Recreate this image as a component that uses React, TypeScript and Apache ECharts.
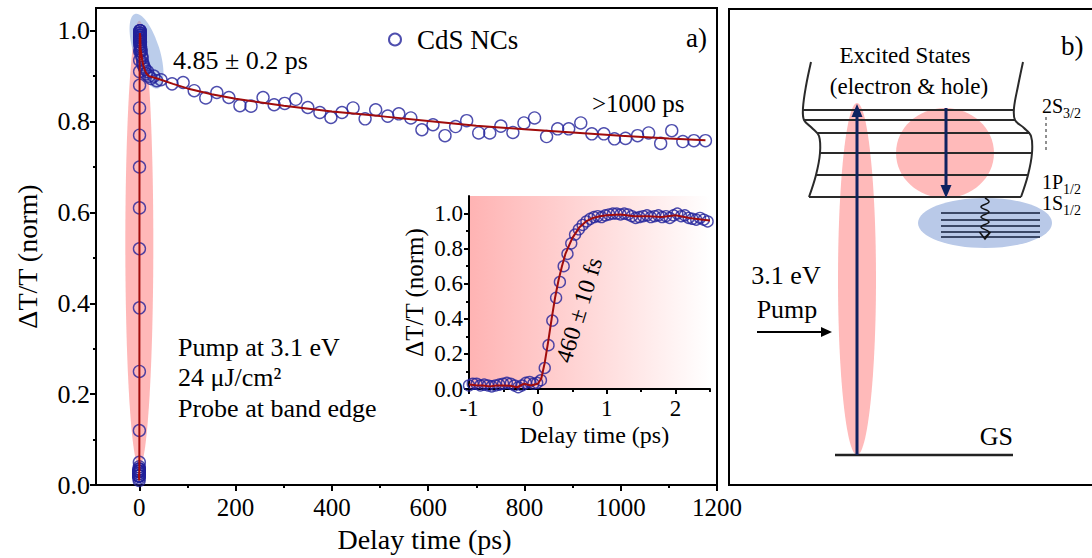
import React, { useEffect, useRef } from 'react';
import * as echarts from 'echarts';

const SERIF = '"Liberation Serif", "Times New Roman", serif';
const NAVY_MARK = '#22229a';
const FIT_RED = '#a00c0c';
const ARROW_NAVY = '#0e2260';

// Sub-picosecond scan around time zero (ps, normalised dT/T)
const riseTime = [
  -1.0, -0.945, -0.89, -0.835, -0.78, -0.725, -0.67, -0.615, -0.56, -0.505,
  -0.45, -0.395, -0.34, -0.285, -0.23, -0.175, -0.12, -0.065, -0.01, 0.045,
  0.1, 0.155, 0.21, 0.265, 0.32, 0.375, 0.43, 0.485, 0.54, 0.595,
  0.65, 0.705, 0.76, 0.815, 0.87, 0.925, 0.98, 1.035, 1.09, 1.145,
  1.2, 1.255, 1.31, 1.365, 1.42, 1.475, 1.53, 1.585, 1.64, 1.695,
  1.75, 1.805, 1.86, 1.915, 1.97, 2.025, 2.08, 2.135, 2.19, 2.245,
  2.3, 2.355, 2.41, 2.465,
];
const riseSignal = [
  0.02, 0.03, 0.03, 0.02, 0.025, 0.02, 0.015, 0.02, 0.025, 0.03,
  0.035, 0.03, 0.02, 0.01, 0.02, 0.035, 0.04, 0.03, 0.035, 0.05,
  0.12, 0.25, 0.39, 0.52, 0.61, 0.7, 0.77, 0.83, 0.88, 0.91,
  0.935, 0.955, 0.97, 0.98, 0.985, 0.98, 0.99, 0.995, 1.0, 1.0,
  0.995, 1.0, 0.995, 0.985, 0.975, 0.98, 0.985, 0.99, 0.98, 0.985,
  0.99, 0.98, 0.985, 0.975, 0.99, 1.0, 0.985, 0.99, 0.975, 0.97,
  0.965, 0.975, 0.965, 0.955,
];

// Long-delay scan (ps, normalised dT/T)
const decayTime = [
  3, 4, 5, 6, 7, 8, 10, 12, 14, 17, 20, 24, 30, 36,
  45, 68, 91, 114, 138, 161, 186, 209, 232, 257, 280, 302, 325, 350, 375, 398,
  421, 444, 469, 491, 516, 539, 564, 587, 610, 635, 657, 680, 705, 728, 751,
  776, 799, 821, 846, 869, 892, 917, 940, 965, 987, 1010, 1035, 1058, 1083,
  1106, 1129, 1152, 1176,
];
const decaySignal = [
  0.96, 0.955, 0.945, 0.94, 0.93, 0.925, 0.92, 0.915, 0.905, 0.91, 0.9, 0.895, 0.9, 0.89,
  0.892, 0.883, 0.886, 0.868, 0.852, 0.864, 0.853, 0.835, 0.834, 0.853, 0.837, 0.84, 0.849, 0.831, 0.82, 0.809,
  0.82, 0.83, 0.806, 0.826, 0.812, 0.817, 0.808, 0.782, 0.793, 0.769, 0.789, 0.802, 0.775, 0.775, 0.79,
  0.776, 0.797, 0.808, 0.767, 0.784, 0.784, 0.797, 0.773, 0.773, 0.762, 0.763, 0.769, 0.775, 0.752,
  0.78, 0.756, 0.758, 0.758,
];

// Fitted curves
const riseFitTime = [
  -1.0, -0.9, -0.8, -0.7, -0.6, -0.5, -0.4, -0.3, -0.2, -0.1, 0.0, 0.05, 0.1, 0.15,
  0.2, 0.25, 0.3, 0.35, 0.4, 0.5, 0.6, 0.7, 0.8, 0.9, 1.0, 1.2, 1.4, 1.6, 1.8, 2.0,
  2.2, 2.4, 2.5,
];
const riseFitValue = [
  0.025, 0.022, 0.02, 0.015, 0.02, 0.02, 0.018, 0.01, 0.03, 0.02, 0.03, 0.06, 0.15, 0.27,
  0.4, 0.52, 0.62, 0.7, 0.77, 0.86, 0.92, 0.955, 0.975, 0.985, 0.99, 0.995, 0.985, 0.985, 0.98, 0.99,
  0.975, 0.965, 0.96,
];
const decayFitTime = [
  4, 6, 8, 10, 14, 20, 30, 45, 70, 100, 150, 200, 300, 400, 500, 600, 700, 800,
  900, 1000, 1100, 1176,
];
const decayFitValue = [
  0.95, 0.935, 0.925, 0.917, 0.907, 0.9, 0.897, 0.892, 0.883, 0.873, 0.86, 0.85, 0.835,
  0.822, 0.812, 0.801, 0.791, 0.783, 0.776, 0.769, 0.763, 0.759,
];

// Axis ticks
const mainXTicks = [0, 200, 400, 600, 800, 1000, 1200];
const mainXMinor = [100, 300, 500, 700, 900, 1100];
const mainYTicks = [0, 0.2, 0.4, 0.6, 0.8, 1.0];
const mainYMinor = [0.1, 0.3, 0.5, 0.7, 0.9];
const insetXTicks = [-1, 0, 1, 2];
const insetXMinor = [-0.5, 0.5, 1.5, 2.5];
const insetYTicks = [0, 0.2, 0.4, 0.6, 0.8, 1.0];
const insetYMinor = [0.1, 0.3, 0.5, 0.7, 0.9];

// Highlighted regions in data coordinates: [time, lower, upper] and two ends
const pumpWindow = [0, 0.04, 1.022];
const fastDecayWindow = [[-9, 1.037], [39, 0.873]];

const zip = (a: number[], b: number[]) => a.map((v, i) => [v, b[i]]);

function majorAxis(extra: any) {
  return {
    type: 'value',
    axisLine: { show: true, onZero: false, lineStyle: { color: '#000', width: 2 } },
    splitLine: { show: false },
    ...extra,
  };
}

function minorAxis(gridIndex: number, min: number, max: number, ticks: number[], position: string) {
  return {
    type: 'value',
    gridIndex,
    min,
    max,
    position,
    axisLine: { show: false, onZero: false },
    axisTick: { show: true, customValues: ticks, length: 3, lineStyle: { color: '#000', width: 2 } },
    axisLabel: { show: false },
    splitLine: { show: false },
  };
}

function txt(text: string, x: number, y: number, fontSize: number, extra: any = {}) {
  return {
    type: 'text',
    x,
    y,
    z: 20,
    ...extra,
    style: {
      text,
      fontSize,
      fontFamily: SERIF,
      fill: '#000',
      align: 'left',
      verticalAlign: 'middle',
      ...(extra.style || {}),
    },
  };
}

function seg(x1: number, y1: number, x2: number, y2: number, stroke: string, lineWidth: number, z = 6, extra: any = {}) {
  return { type: 'line', z, shape: { x1, y1, x2, y2 }, style: { stroke, lineWidth, ...extra } };
}

function buildOption() {
  const mainPoints = zip(riseTime, riseSignal).concat(zip(decayTime, decaySignal));
  const mainFit = zip(riseFitTime, riseFitValue).concat(zip(decayFitTime, decayFitValue));
  const insetGradient = new echarts.graphic.LinearGradient(0, 0, 1, 0, [
    { offset: 0, color: '#ffb3b3' },
    { offset: 0.5, color: '#ffd8d8' },
    { offset: 1, color: '#ffffff' },
  ]);
  return {
    animation: false,
    backgroundColor: '#fff',
    textStyle: { fontFamily: SERIF },
    legend: {
      show: true,
      data: [{ name: 'CdS NCs', icon: 'circle' }],
      left: 383,
      top: 21,
      itemWidth: 12,
      itemHeight: 12,
      textStyle: { fontSize: 27, fontFamily: SERIF, color: '#000', padding: [0, 0, 0, 11] },
    },
    grid: [
      { left: 96, top: 8, width: 621, height: 477, show: true, borderColor: '#000', borderWidth: 2, backgroundColor: 'transparent' },
      { left: 469, top: 196, width: 241, height: 193, show: true, borderWidth: 0, backgroundColor: insetGradient },
    ],
    xAxis: [
      majorAxis({
        gridIndex: 0,
        min: -90,
        max: 1200,
        position: 'bottom',
        axisTick: { show: true, customValues: mainXTicks, length: 6, lineStyle: { color: '#000', width: 2 } },
        axisLabel: {
          show: true, customValues: mainXTicks, margin: 10, fontSize: 25, fontFamily: SERIF, color: '#000',
          formatter: (v: number) => String(v),
        },
        name: 'Delay time (ps)',
        nameLocation: 'middle',
        nameGap: 40,
        nameTextStyle: { fontSize: 28, fontFamily: SERIF, color: '#000', padding: [0, 0, 0, 36] },
      }),
      minorAxis(0, -90, 1200, mainXMinor, 'bottom'),
      majorAxis({
        gridIndex: 1,
        min: -1,
        max: 2.5,
        position: 'bottom',
        axisTick: { show: true, customValues: insetXTicks, length: 5, lineStyle: { color: '#000', width: 2 } },
        axisLabel: {
          show: true, customValues: insetXTicks, margin: 8, fontSize: 23, fontFamily: SERIF, color: '#000',
          formatter: (v: number) => String(v),
        },
        name: 'Delay time (ps)',
        nameLocation: 'middle',
        nameGap: 34,
        nameTextStyle: { fontSize: 24, fontFamily: SERIF, color: '#000', padding: [0, 0, 0, 10] },
      }),
      minorAxis(1, -1, 2.5, insetXMinor, 'bottom'),
    ],
    yAxis: [
      majorAxis({
        gridIndex: 0,
        min: 0,
        max: 1.05,
        position: 'left',
        axisTick: { show: true, customValues: mainYTicks, length: 6, lineStyle: { color: '#000', width: 2 } },
        axisLabel: {
          show: true, customValues: mainYTicks, margin: 6, fontSize: 26, fontFamily: SERIF, color: '#000',
          formatter: (v: number) => v.toFixed(1),
        },
        name: 'ΔT/T (norm)',
        nameLocation: 'middle',
        nameGap: 55,
        nameTextStyle: { fontSize: 28, fontFamily: SERIF, color: '#000', padding: [0, 20, 0, 0] },
      }),
      minorAxis(0, 0, 1.05, mainYMinor, 'left'),
      majorAxis({
        gridIndex: 1,
        min: 0,
        max: 1.1,
        position: 'left',
        axisTick: { show: true, customValues: insetYTicks, length: 5, lineStyle: { color: '#000', width: 2 } },
        axisLabel: {
          show: true, customValues: insetYTicks, margin: 6, fontSize: 23, fontFamily: SERIF, color: '#000',
          formatter: (v: number) => v.toFixed(1),
        },
        name: 'ΔT/T (norm)',
        nameLocation: 'middle',
        nameGap: 42,
        nameTextStyle: { fontSize: 25, fontFamily: SERIF, color: '#000' },
      }),
      minorAxis(1, 0, 1.1, insetYMinor, 'left'),
    ],
    series: [
      {
        name: 'CdS NCs',
        type: 'scatter',
        xAxisIndex: 0,
        yAxisIndex: 0,
        data: mainPoints,
        symbol: 'circle',
        symbolSize: 12,
        itemStyle: { color: 'rgba(255,255,255,0)', borderColor: NAVY_MARK, borderWidth: 1.4 },
        z: 3,
      },
      {
        name: 'Fit',
        type: 'line',
        xAxisIndex: 0,
        yAxisIndex: 0,
        data: mainFit,
        showSymbol: false,
        lineStyle: { color: FIT_RED, width: 2 },
        z: 4,
      },
      {
        name: 'CdS NCs rise',
        type: 'scatter',
        xAxisIndex: 2,
        yAxisIndex: 2,
        data: zip(riseTime, riseSignal),
        symbol: 'circle',
        symbolSize: 11,
        itemStyle: { color: 'rgba(255,255,255,0)', borderColor: NAVY_MARK, borderWidth: 1.4 },
        z: 3,
      },
      {
        name: 'Rise fit',
        type: 'line',
        xAxisIndex: 2,
        yAxisIndex: 2,
        data: zip(riseFitTime, riseFitValue),
        showSymbol: false,
        lineStyle: { color: FIT_RED, width: 2 },
        z: 4,
      },
    ],
  };
}

function highlightElements(chart: any) {
  const top = chart.convertToPixel({ seriesIndex: 0 }, [pumpWindow[0], pumpWindow[2]]);
  const bottom = chart.convertToPixel({ seriesIndex: 0 }, [pumpWindow[0], pumpWindow[1]]);
  const a = chart.convertToPixel({ seriesIndex: 0 }, fastDecayWindow[0]);
  const b = chart.convertToPixel({ seriesIndex: 0 }, fastDecayWindow[1]);
  const dx = b[0] - a[0];
  const dy = b[1] - a[1];
  return [
    {
      type: 'ellipse',
      z: 1,
      x: top[0],
      y: (top[1] + bottom[1]) / 2,
      shape: { cx: 0, cy: 0, rx: 14, ry: (bottom[1] - top[1]) / 2 },
      style: { fill: 'rgba(255,140,140,0.62)' },
    },
    {
      type: 'ellipse',
      z: 1,
      x: (a[0] + b[0]) / 2,
      y: (a[1] + b[1]) / 2,
      rotation: Math.atan2(dx, dy),
      shape: { cx: 0, cy: 0, rx: 13, ry: Math.hypot(dx, dy) / 2 },
      style: { fill: 'rgba(120,155,215,0.5)' },
    },
  ];
}

function annotationElements() {
  return [
    txt('4.85 ± 0.2 ps', 173, 60, 26),
    txt('>1000 ps', 592, 103, 25),
    txt('a)', 707, 38, 27, { style: { align: 'right' } }),
    txt('Pump at 3.1 eV', 178, 347, 26),
    txt('24 μJ/cm²', 178, 377, 26),
    txt('Probe at band edge', 178, 408, 26),
    txt('460 ± 10 fs', 579, 310, 24, { rotation: (73 * Math.PI) / 180, style: { align: 'center' } }),
  ];
}

function panelBElements() {
  const band = '#2a2a2a';
  const trap = '#3b4866';
  const leftEdge = [[811, 62], [806, 86], [803, 108], [804, 120], [812, 128], [819, 136], [820, 153], [816, 175], [809, 197]];
  const rightEdge = [[1023, 62], [1018, 86], [1014, 108], [1015, 120], [1024, 128], [1031, 136], [1032, 153], [1028, 175], [1021, 197]];
  const levels = [[110, 803, 1014], [120, 804, 1015], [133, 817, 1030], [153, 820, 1032], [175, 816, 1028], [197, 809, 1021]];
  const traps = [213, 220, 226, 232, 237];
  const els: any[] = [
    { type: 'rect', z: 2, shape: { x: 729, y: 9, width: 420, height: 476 }, style: { fill: 'none', stroke: '#000', lineWidth: 2 } },
    { type: 'ellipse', z: 3, shape: { cx: 857, cy: 279, rx: 19, ry: 176 }, style: { fill: '#ffbaba' } },
    { type: 'ellipse', z: 3, shape: { cx: 945, cy: 153, rx: 49, ry: 45 }, style: { fill: '#ffbaba' } },
    { type: 'ellipse', z: 3, shape: { cx: 985, cy: 223, rx: 67, ry: 25 }, style: { fill: '#b9c9e8' } },
    { type: 'polyline', z: 5, shape: { points: leftEdge, smooth: 0.35 }, style: { stroke: band, lineWidth: 2, fill: null } },
    { type: 'polyline', z: 5, shape: { points: rightEdge, smooth: 0.35 }, style: { stroke: band, lineWidth: 2, fill: null } },
  ];
  levels.forEach(([y, x1, x2]) => els.push(seg(x1, y, x2, y, band, 2, 5)));
  traps.forEach((y) => els.push(seg(941, y, 1040, y, trap, 2, 5)));
  // pump arrow (ground state up to the excited band)
  els.push(seg(857, 455, 857, 116, ARROW_NAVY, 3, 7));
  els.push({ type: 'polygon', z: 7, shape: { points: [[857, 104], [851.5, 117], [862.5, 117]] }, style: { fill: ARROW_NAVY } });
  // intraband relaxation arrow
  els.push(seg(946, 108, 946, 187, ARROW_NAVY, 3, 7));
  els.push({ type: 'polygon', z: 7, shape: { points: [[946, 198], [940.5, 185], [951.5, 185]] }, style: { fill: ARROW_NAVY } });
  // wavy trapping arrow
  els.push({
    type: 'polyline', z: 7,
    shape: { points: [[985, 198], [989, 202], [981, 207], [989, 212], [981, 217], [989, 222], [981, 227], [989, 232], [985, 237]], smooth: 0.4 },
    style: { stroke: '#111', lineWidth: 1.5, fill: null },
  });
  els.push({ type: 'polyline', z: 7, shape: { points: [[979.5, 232], [985, 239], [990.5, 232]] }, style: { stroke: '#111', lineWidth: 1.5, fill: null } });
  // dashed level guide
  els.push(seg(1046, 117, 1046, 150, '#222', 1, 6, { lineDash: [3, 3] }));
  // ground state
  els.push(seg(835, 455, 1013, 455, '#222', 2.5, 6));
  // external pump arrow
  els.push(seg(757, 332, 823, 332, '#000', 2, 6));
  els.push({ type: 'polygon', z: 6, shape: { points: [[832, 332], [821, 327], [821, 337]] }, style: { fill: '#000' } });
  // labels
  els.push(txt('b)', 1061, 46, 27));
  els.push(txt('Excited States', 905, 55, 23, { style: { align: 'center' } }));
  els.push(txt('(electron & hole)', 909, 86, 23, { style: { align: 'center' } }));
  els.push(txt('2S', 1042, 106, 20));
  els.push(txt('3/2', 1063, 113, 14));
  els.push(txt('1P', 1042, 182, 20));
  els.push(txt('1/2', 1063, 189, 14));
  els.push(txt('1S', 1042, 203, 20));
  els.push(txt('1/2', 1063, 210, 14));
  els.push(txt('3.1 eV', 786, 275, 26, { style: { align: 'center' } }));
  els.push(txt('Pump', 787, 309, 26, { style: { align: 'center' } }));
  els.push(txt('GS', 1013, 436, 26, { style: { align: 'right' } }));
  return els;
}

export default function App() {
  const ref = useRef<HTMLDivElement>(null);
  useEffect(() => {
    if (!ref.current) return;
    const chart = echarts.init(ref.current, null, { renderer: 'svg' });
    chart.setOption(buildOption() as any);
    chart.setOption({
      graphic: { elements: [...highlightElements(chart), ...annotationElements(), ...panelBElements()] },
    } as any);
    return () => chart.dispose();
  }, []);
  return (
    <div
      ref={ref}
      style={{ position: 'absolute', left: 0, top: 0, width: 1092, height: 558, background: '#fff' }}
    />
  );
}
